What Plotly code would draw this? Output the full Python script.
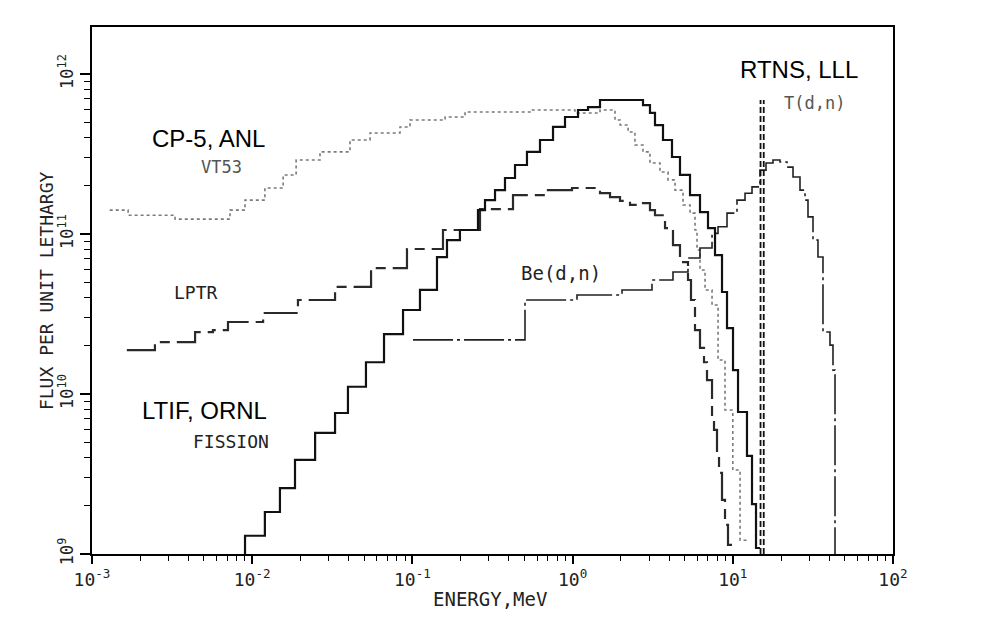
import plotly.graph_objects as go

# ---------------- data (energy in MeV, flux per unit lethargy) ----------------
vt53_E = [1.29e-3, 1.68e-3, 3.30e-3, 7.27e-3, 9.02e-3, 1.20e-2, 1.56e-2, 1.88e-2, 2.65e-2,
          4.08e-2, 5.44e-2, 8.37e-2, 9.66e-2, 0.160, 0.213, 0.542, 1.035, 1.483, 1.84, 1.98,
          2.22, 2.45, 2.75, 3.04, 3.51, 3.94, 4.36, 4.89, 5.41, 5.81, 5.98, 6.24, 6.71, 7.42,
          8.09, 8.94, 10.0, 11.1, 12.4]
vt53_F = [1.41e11, 1.31e11, 1.24e11, 1.41e11, 1.63e11, 1.94e11, 2.34e11, 2.90e11, 3.26e11,
          3.87e11, 4.28e11, 4.67e11, 5.16e11, 5.39e11, 5.79e11, 5.96e11, 5.71e11, 5.96e11,
          5.16e11, 4.80e11, 4.34e11, 3.60e11, 3.26e11, 2.78e11, 2.44e11, 2.18e11, 1.88e11,
          1.52e11, 1.35e11, 1.06e11, 7.94e10, 5.96e10, 4.47e10, 3.60e10, 1.63e10, 7.94e9,
          3.35e9, 1.22e9, 1.22e9]

fission_E = [9.02e-3, 9.02e-3, 1.20e-2, 1.49e-2, 1.85e-2, 2.47e-2, 3.29e-2, 3.96e-2, 5.13e-2,
             6.65e-2, 8.74e-2, 0.1115, 0.1424, 0.1644, 0.198, 0.2567, 0.2839, 0.3279, 0.3784,
             0.437, 0.519, 0.6259, 0.7546, 0.8966, 1.081, 1.248, 1.483, 2.751, 3.041, 3.268,
             3.667, 4.173, 4.681, 5.406, 6.241, 7.002, 7.744, 8.563, 9.202, 10.03, 10.78,
             12.26, 13.18, 13.96, 14.78]
fission_F = [1.0e9, 1.30e9, 1.83e9, 2.58e9, 3.87e9, 5.71e9, 7.61e9, 1.11e10, 1.58e10,
             2.37e10, 3.35e10, 4.47e10, 7.18e10, 9.17e10, 1.06e11, 1.41e11, 1.63e11, 1.88e11,
             2.24e11, 2.70e11, 3.26e11, 3.87e11, 4.67e11, 5.39e11, 5.96e11, 6.22e11, 6.88e11,
             6.40e11, 5.71e11, 4.80e11, 3.87e11, 3.03e11, 2.34e11, 1.75e11, 1.37e11, 1.09e11,
             7.39e10, 4.34e10, 2.58e10, 1.41e10, 7.72e9, 4.10e9, 2.05e9, 1.09e9, 1.09e9]

lptr_E = [1.65e-3, 2.47e-3, 4.40e-3, 5.69e-3, 7.06e-3, 1.17e-2, 1.93e-2, 3.29e-2, 5.52e-2,
          9.25e-2, 0.1552, 0.2642, 0.4246, 0.6725, 0.9915, 1.483, 1.712, 1.977, 2.282, 2.751,
          3.041, 3.268, 3.775, 4.233, 4.681, 5.252, 5.483, 5.808, 6.241, 6.610, 6.902, 7.419,
          7.633, 7.970, 8.202, 8.563, 8.941, 9.333, 9.886]
lptr_F = [1.88e10, 2.11e10, 2.44e10, 2.51e10, 2.82e10, 3.21e10, 3.87e10, 4.67e10, 6.13e10,
          8.06e10, 1.06e11, 1.43e11, 1.75e11, 1.88e11, 1.94e11, 1.80e11, 1.70e11, 1.61e11,
          1.52e11, 1.56e11, 1.41e11, 1.31e11, 1.09e11, 8.53e10, 6.68e10, 5.16e10, 3.87e10,
          2.51e10, 1.94e10, 1.58e10, 1.22e10, 6.88e9, 5.96e9, 4.16e9, 3.21e9, 2.18e9, 1.52e9,
          1.14e9, 1.14e9]

bedn_E = [0.1009, 0.5045, 1.065, 2.035, 3.130, 4.233, 5.252, 6.241, 7.419, 8.085, 9.202,
          10.62, 11.92, 13.18, 14.78, 16.12, 17.82, 19.71, 21.80, 23.76, 26.27, 28.23, 29.47,
          31.67, 34.02, 36.56, 40.43, 42.21, 43.45]
bedn_F = [2.18e10, 3.87e10, 4.16e10, 4.47e10, 5.16e10, 5.79e10, 7.08e10, 8.18e10, 1.01e11,
          1.11e11, 1.35e11, 1.63e11, 1.80e11, 1.97e11, 2.51e11, 2.78e11, 2.90e11, 2.82e11,
          2.62e11, 2.27e11, 1.88e11, 1.63e11, 1.28e11, 9.17e10, 7.18e10, 2.44e10, 2.02e10,
          1.41e10, 1.0e9]

tdn_E = [14.9, 15.6]
tdn_F = [1.0e9, 6.88e11]

x_tickvals = [1e-3, 1e-2, 1e-1, 1e0, 1e1, 1e2]
x_ticktext = ["10<sup>-3</sup>", "10<sup>-2</sup>", "10<sup>-1</sup>", "10<sup>0</sup>",
              "10<sup>1</sup>", "10<sup>2</sup>"]
y_tickvals = [1e9, 1e10, 1e11, 1e12]
y_ticktext = ["10<sup>9</sup>", "10<sup>10</sup>", "10<sup>11</sup>", "10<sup>12</sup>"]

# ---------------- figure ----------------
fig = go.Figure()

fig.add_trace(go.Scatter(x=vt53_E, y=vt53_F, mode="lines", line_shape="hv",
                         line=dict(color="#7a7a7a", width=1.6, dash="dot"), name="VT53"))
fig.add_trace(go.Scatter(x=lptr_E, y=lptr_F, mode="lines", line_shape="hv",
                         line=dict(color="#2a2a2a", width=2.2, dash="34px,7px,10px,7px"), name="LPTR"))
fig.add_trace(go.Scatter(x=bedn_E, y=bedn_F, mode="lines", line_shape="hv",
                         line=dict(color="#222222", width=1.6, dash="40px,4px,3px,4px"), name="Be(d,n)"))
fig.add_trace(go.Scatter(x=fission_E, y=fission_F, mode="lines", line_shape="hv",
                         line=dict(color="#111111", width=2.2), name="FISSION"))
for e in tdn_E:
    fig.add_trace(go.Scatter(x=[e, e], y=tdn_F, mode="lines",
                             line=dict(color="#111111", width=1.8, dash="6px,3px"), name="T(d,n)"))

mono = "DejaVu Sans Mono"
sans = "Liberation Sans, Arial"

annots = [
    dict(text="CP-5, ANL", x=-2.270, y=11.60, font=dict(family=sans, size=24, color="black")),
    dict(text="VT53", x=-2.189, y=11.419, font=dict(family=mono, size=17, color="#555")),
    dict(text="LPTR", x=-2.351, y=10.6375, font=dict(family=mono, size=18, color="#222")),
    dict(text="LTIF, ORNL", x=-2.295, y=9.90, font=dict(family=sans, size=24, color="black")),
    dict(text="FISSION", x=-2.132, y=9.706, font=dict(family=mono, size=18, color="#222")),
    dict(text="Be(d,n)", x=-0.072, y=10.756, font=dict(family=mono, size=19, color="#222")),
    dict(text="RTNS, LLL", x=1.413, y=12.031, font=dict(family=sans, size=24, color="black")),
    dict(text="T(d,n)", x=1.507, y=11.819, font=dict(family=mono, size=17, color="#555")),
]
for a in annots:
    fig.add_annotation(xref="x", yref="y", showarrow=False, xanchor="center", yanchor="middle", **a)

fig.add_annotation(xref="paper", yref="paper", x=0.497, y=-0.0854, showarrow=False,
                   text="ENERGY,MeV", font=dict(family=mono, size=19, color="#222"),
                   xanchor="center", yanchor="middle")
fig.add_annotation(xref="paper", yref="paper", x=-0.0574, y=0.499, showarrow=False,
                   text="FLUX PER UNIT LETHARGY", textangle=-90,
                   font=dict(family=mono, size=18, color="#222"),
                   xanchor="center", yanchor="middle")

# light frame of the scanned image
fig.add_shape(type="line", xref="paper", yref="paper", x0=-0.107, x1=1.2, y0=1.0417, y1=1.0417,
              line=dict(color="#d8d8d8", width=1))
fig.add_shape(type="line", xref="paper", yref="paper", x0=-0.107, x1=-0.107, y0=-0.12, y1=1.0417,
              line=dict(color="#d8d8d8", width=1))

fig.update_xaxes(type="log", range=[-3, 2], showgrid=False, zeroline=False,
                 showline=True, mirror=True, linecolor="black", linewidth=2,
                 ticks="outside", ticklen=8, tickwidth=1.5, tickcolor="black",
                 tickvals=x_tickvals, ticktext=x_ticktext,
                 tickfont=dict(family=mono, size=18, color="#222"),
                 minor=dict(ticks="outside", ticklen=5, tickwidth=1.2, tickcolor="black",
                            dtick="D1", showgrid=False))
fig.update_yaxes(type="log", range=[9, 12.294], showgrid=False, zeroline=False,
                 showline=True, mirror=True, linecolor="black", linewidth=2,
                 ticks="outside", ticklen=10, tickwidth=1.5, tickcolor="black",
                 tickvals=y_tickvals, ticktext=y_ticktext, tickangle=-90,
                 tickfont=dict(family=mono, size=17, color="#222"),
                 minor=dict(ticks="outside", ticklen=6, tickwidth=1.2, tickcolor="black",
                            dtick="D1", showgrid=False))

fig.update_layout(width=982, height=610, margin=dict(l=84, r=97, t=19, b=64),
                  paper_bgcolor="white", plot_bgcolor="white", showlegend=False)

fig.write_html("out.html")
